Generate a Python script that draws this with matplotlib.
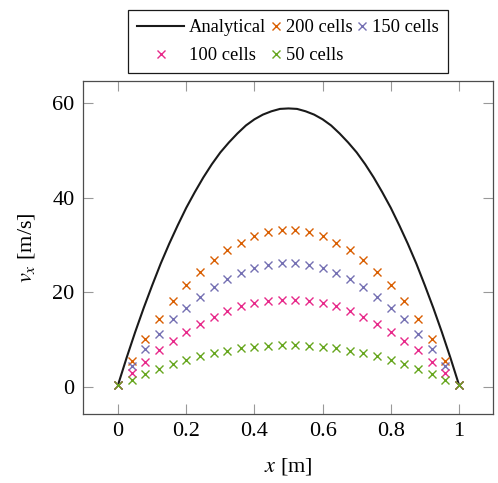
import matplotlib
matplotlib.use("Agg")
import matplotlib.pyplot as plt
from matplotlib.legend_handler import HandlerLine2D

plt.rcParams['font.family'] = ['Liberation Serif', 'DejaVu Serif']
plt.rcParams['mathtext.fontset'] = 'stix'

# ---- data ----
x_analytical = [0.0, 0.025, 0.05, 0.075, 0.10, 0.125, 0.15, 0.175, 0.20, 0.225, 0.25,
                0.275, 0.30, 0.325, 0.35, 0.375, 0.40, 0.425, 0.45, 0.475, 0.50,
                0.525, 0.55, 0.575, 0.60, 0.625, 0.65, 0.675, 0.70, 0.725, 0.75,
                0.775, 0.80, 0.825, 0.85, 0.875, 0.90, 0.925, 0.95, 0.975, 1.0]
v_analytical = [0.5, 6.2, 11.6, 16.7, 21.5, 26.1, 30.3, 34.2, 37.9, 41.2, 44.3,
                47.1, 49.6, 51.7, 53.6, 55.3, 56.6, 57.6, 58.3, 58.8, 58.9,
                58.8, 58.3, 57.6, 56.6, 55.3, 53.6, 51.7, 49.6, 47.1, 44.3,
                41.2, 37.9, 34.2, 30.3, 26.1, 21.5, 16.7, 11.6, 6.2, 0.5]

x_cells = [0.0, 0.04, 0.08, 0.12, 0.16, 0.20, 0.24, 0.28, 0.32, 0.36, 0.40, 0.44, 0.48,
           0.52, 0.56, 0.60, 0.64, 0.68, 0.72, 0.76, 0.80, 0.84, 0.88, 0.92, 0.96, 1.0]
v_200 = [0.5, 5.5, 10.1, 14.3, 18.2, 21.5, 24.4, 26.8, 29.0, 30.5, 31.9, 32.7, 33.2,
         33.2, 32.7, 31.9, 30.5, 29.0, 26.8, 24.4, 21.5, 18.2, 14.3, 10.1, 5.5, 0.5]
v_150 = [0.5, 4.4, 8.0, 11.2, 14.3, 16.7, 19.1, 21.2, 22.8, 24.2, 25.2, 25.9, 26.3,
         26.3, 25.9, 25.2, 24.2, 22.8, 21.2, 19.1, 16.7, 14.3, 11.2, 8.0, 4.4, 0.5]
v_100 = [0.5, 3.0, 5.3, 7.8, 9.7, 11.7, 13.3, 14.9, 16.1, 17.1, 17.7, 18.1, 18.4,
         18.4, 18.1, 17.7, 17.1, 16.1, 14.9, 13.3, 11.7, 9.7, 7.8, 5.3, 3.0, 0.5]
v_50 = [0.5, 1.5, 2.7, 3.9, 4.9, 5.7, 6.6, 7.2, 7.6, 8.2, 8.5, 8.7, 8.9,
        8.9, 8.7, 8.5, 8.2, 7.6, 7.2, 6.6, 5.7, 4.9, 3.9, 2.7, 1.5, 0.5]

labels = ['Analytical', '200 cells', '150 cells', '100 cells', '50 cells']
colors = ['#1a1a1a', '#d95f02', '#7570b3', '#e7298a', '#66a61e']
xticks = [0, 0.2, 0.4, 0.6, 0.8, 1]
xticklabels = ['0', '0.2', '0.4', '0.6', '0.8', '1']
yticks = [0, 20, 40, 60]


class RightMarker(HandlerLine2D):
    """Place the single legend marker near the right end of the handle box."""
    def get_xdata(self, legend, xdescent, ydescent, width, height, fontsize):
        c = -xdescent + width - 3.3
        xdata = [c - 1.0, c + 1.0]
        return xdata, [c]


fig = plt.figure(figsize=(4.98, 4.83), dpi=100)
ax = fig.add_axes([83 / 498, 1 - 414 / 483, 410 / 498, 333 / 483])

ln, = ax.plot(x_analytical, v_analytical, color=colors[0], lw=1.5, label=labels[0], zorder=2)
ms = 5.8
mew = 1.0
h200, = ax.plot(x_cells, v_200, ls='none', marker='x', ms=ms, mew=mew, color=colors[1], label=labels[1], zorder=3)
h150, = ax.plot(x_cells, v_150, ls='none', marker='x', ms=ms, mew=mew, color=colors[2], label=labels[2], zorder=3)
h100, = ax.plot(x_cells, v_100, ls='none', marker='x', ms=ms, mew=mew, color=colors[3], label=labels[3], zorder=3)
h50, = ax.plot(x_cells, v_50, ls='none', marker='x', ms=ms, mew=mew, color=colors[4], label=labels[4], zorder=3)

ax.set_xlim(-0.103, 1.1)
ax.set_ylim(-5.7, 64.7)
ax.set_xticks(xticks)
ax.set_xticklabels(xticklabels)
ax.set_yticks(yticks)

for s in ax.spines.values():
    s.set_color('#4d4d4d')
    s.set_linewidth(0.9)
ax.tick_params(direction='in', length=7.2, width=0.8, color='#999999',
               top=True, right=True, labelsize=16, pad=6)

ax.set_xlabel('$x$ [m]', fontsize=16)
ax.set_ylabel('$v_x$ [m/s]', fontsize=16)
ax.xaxis.set_label_coords(0.5, -0.125)
ax.yaxis.set_label_coords(-0.112, 0.5)

handles = [ln, h100, h200, h50, h150]
leg = ax.legend(handles, [h.get_label() for h in handles], ncol=3,
                loc='lower center', bbox_to_anchor=(0.5, 1.023),
                fontsize=13.3, handlelength=2.52, handletextpad=0.27,
                columnspacing=-1.73, borderpad=0.5, labelspacing=0.59,
                frameon=True, fancybox=False, framealpha=1, borderaxespad=0,
                handler_map={h200: RightMarker(), h150: RightMarker(), h50: RightMarker()})
leg.get_frame().set_edgecolor('#1a1a1a')
leg.get_frame().set_linewidth(0.9)

fig.savefig('out.png', dpi=100)
